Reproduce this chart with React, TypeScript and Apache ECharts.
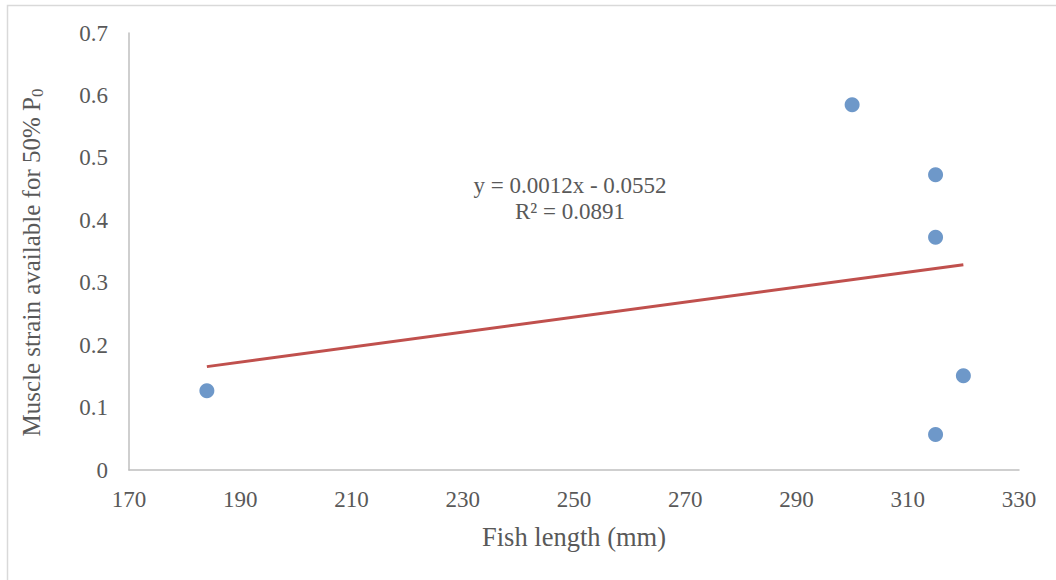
import React, { useEffect, useRef } from "react";
import * as echarts from "echarts";

const fishLength = [184, 300, 315, 315, 320, 315];
const muscleStrain = [0.127, 0.585, 0.473, 0.373, 0.151, 0.057];
const trendSlope = 0.0012;
const trendIntercept = -0.0552;
const trendRange = [184, 320];
const xTicks = { min: 170, max: 330, interval: 20 };
const yTicks = { min: 0, max: 0.7, interval: 0.1 };
const equationLines = ["y = 0.0012x - 0.0552", "R² = 0.0891"];

const FONT = '"Liberation Serif", "Times New Roman", serif';
const GRAY = "#595959";

export default function App() {
  const ref = useRef<HTMLDivElement>(null);
  useEffect(() => {
    const chart = echarts.init(ref.current!, null, { renderer: "svg" });
    const trend = trendRange.map((x) => [x, trendSlope * x + trendIntercept]);
    chart.setOption({
      animation: false,
      backgroundColor: "#ffffff",
      textStyle: { fontFamily: FONT },
      grid: { left: 129, right: 37, top: 33, bottom: 110, containLabel: false },
      xAxis: {
        type: "value",
        min: xTicks.min,
        max: xTicks.max,
        interval: xTicks.interval,
        name: "Fish length (mm)",
        nameLocation: "middle",
        nameGap: 53,
        nameTextStyle: { color: GRAY, fontSize: 26.5, fontFamily: FONT },
        axisLine: { show: true, lineStyle: { color: "#BFBFBF", width: 1.5 } },
        axisTick: { show: false },
        splitLine: { show: false },
        axisLabel: { color: GRAY, fontSize: 23, fontFamily: FONT, margin: 18 },
      },
      yAxis: {
        type: "value",
        min: yTicks.min,
        max: yTicks.max,
        interval: yTicks.interval,
        name: "{n|Muscle strain available for 50% P}{sub|0}",
        nameLocation: "middle",
        nameRotate: 90,
        nameGap: 83,
        nameTextStyle: {
          color: GRAY,
          fontSize: 25,
          fontFamily: FONT,
          padding: [0, 22, 0, 0],
          rich: {
            n: { color: GRAY, fontSize: 25, fontFamily: FONT },
            sub: { color: GRAY, fontSize: 17, fontFamily: FONT, verticalAlign: "bottom", padding: [12, 0, 0, 0] },
          },
        },
        axisLine: { show: true, lineStyle: { color: "#BFBFBF", width: 1.5 } },
        axisTick: { show: false },
        splitLine: { show: false },
        axisLabel: { color: GRAY, fontSize: 23, fontFamily: FONT, margin: 21 },
      },
      graphic: [
        {
          type: "rect",
          shape: { x: 7.5, y: 5.5, width: 1100, height: 700 },
          style: { fill: "none", stroke: "#D9D9D9", lineWidth: 1.5 },
          silent: true,
          z: -1,
        },
        {
          type: "text",
          x: 570,
          y: 198,
          style: {
            text: equationLines.join("\n"),
            fill: GRAY,
            font: `23px ${FONT}`,
            align: "center",
            verticalAlign: "middle",
            lineHeight: 26,
          },
        },
      ],
      series: [
        {
          type: "line",
          data: trend,
          showSymbol: false,
          symbol: "none",
          lineStyle: { color: "#C0504D", width: 3 },
          z: 1,
        },
        {
          type: "scatter",
          data: fishLength.map((x, i) => [x, muscleStrain[i]]),
          symbol: "circle",
          symbolSize: 15,
          itemStyle: { color: "#4A7EBB" },
          z: 2,
        },
      ],
    });
    return () => chart.dispose();
  }, []);
  return (
    <div
      ref={ref}
      style={{ position: "absolute", left: 0, top: 0, width: 1056, height: 580 }}
    />
  );
}
